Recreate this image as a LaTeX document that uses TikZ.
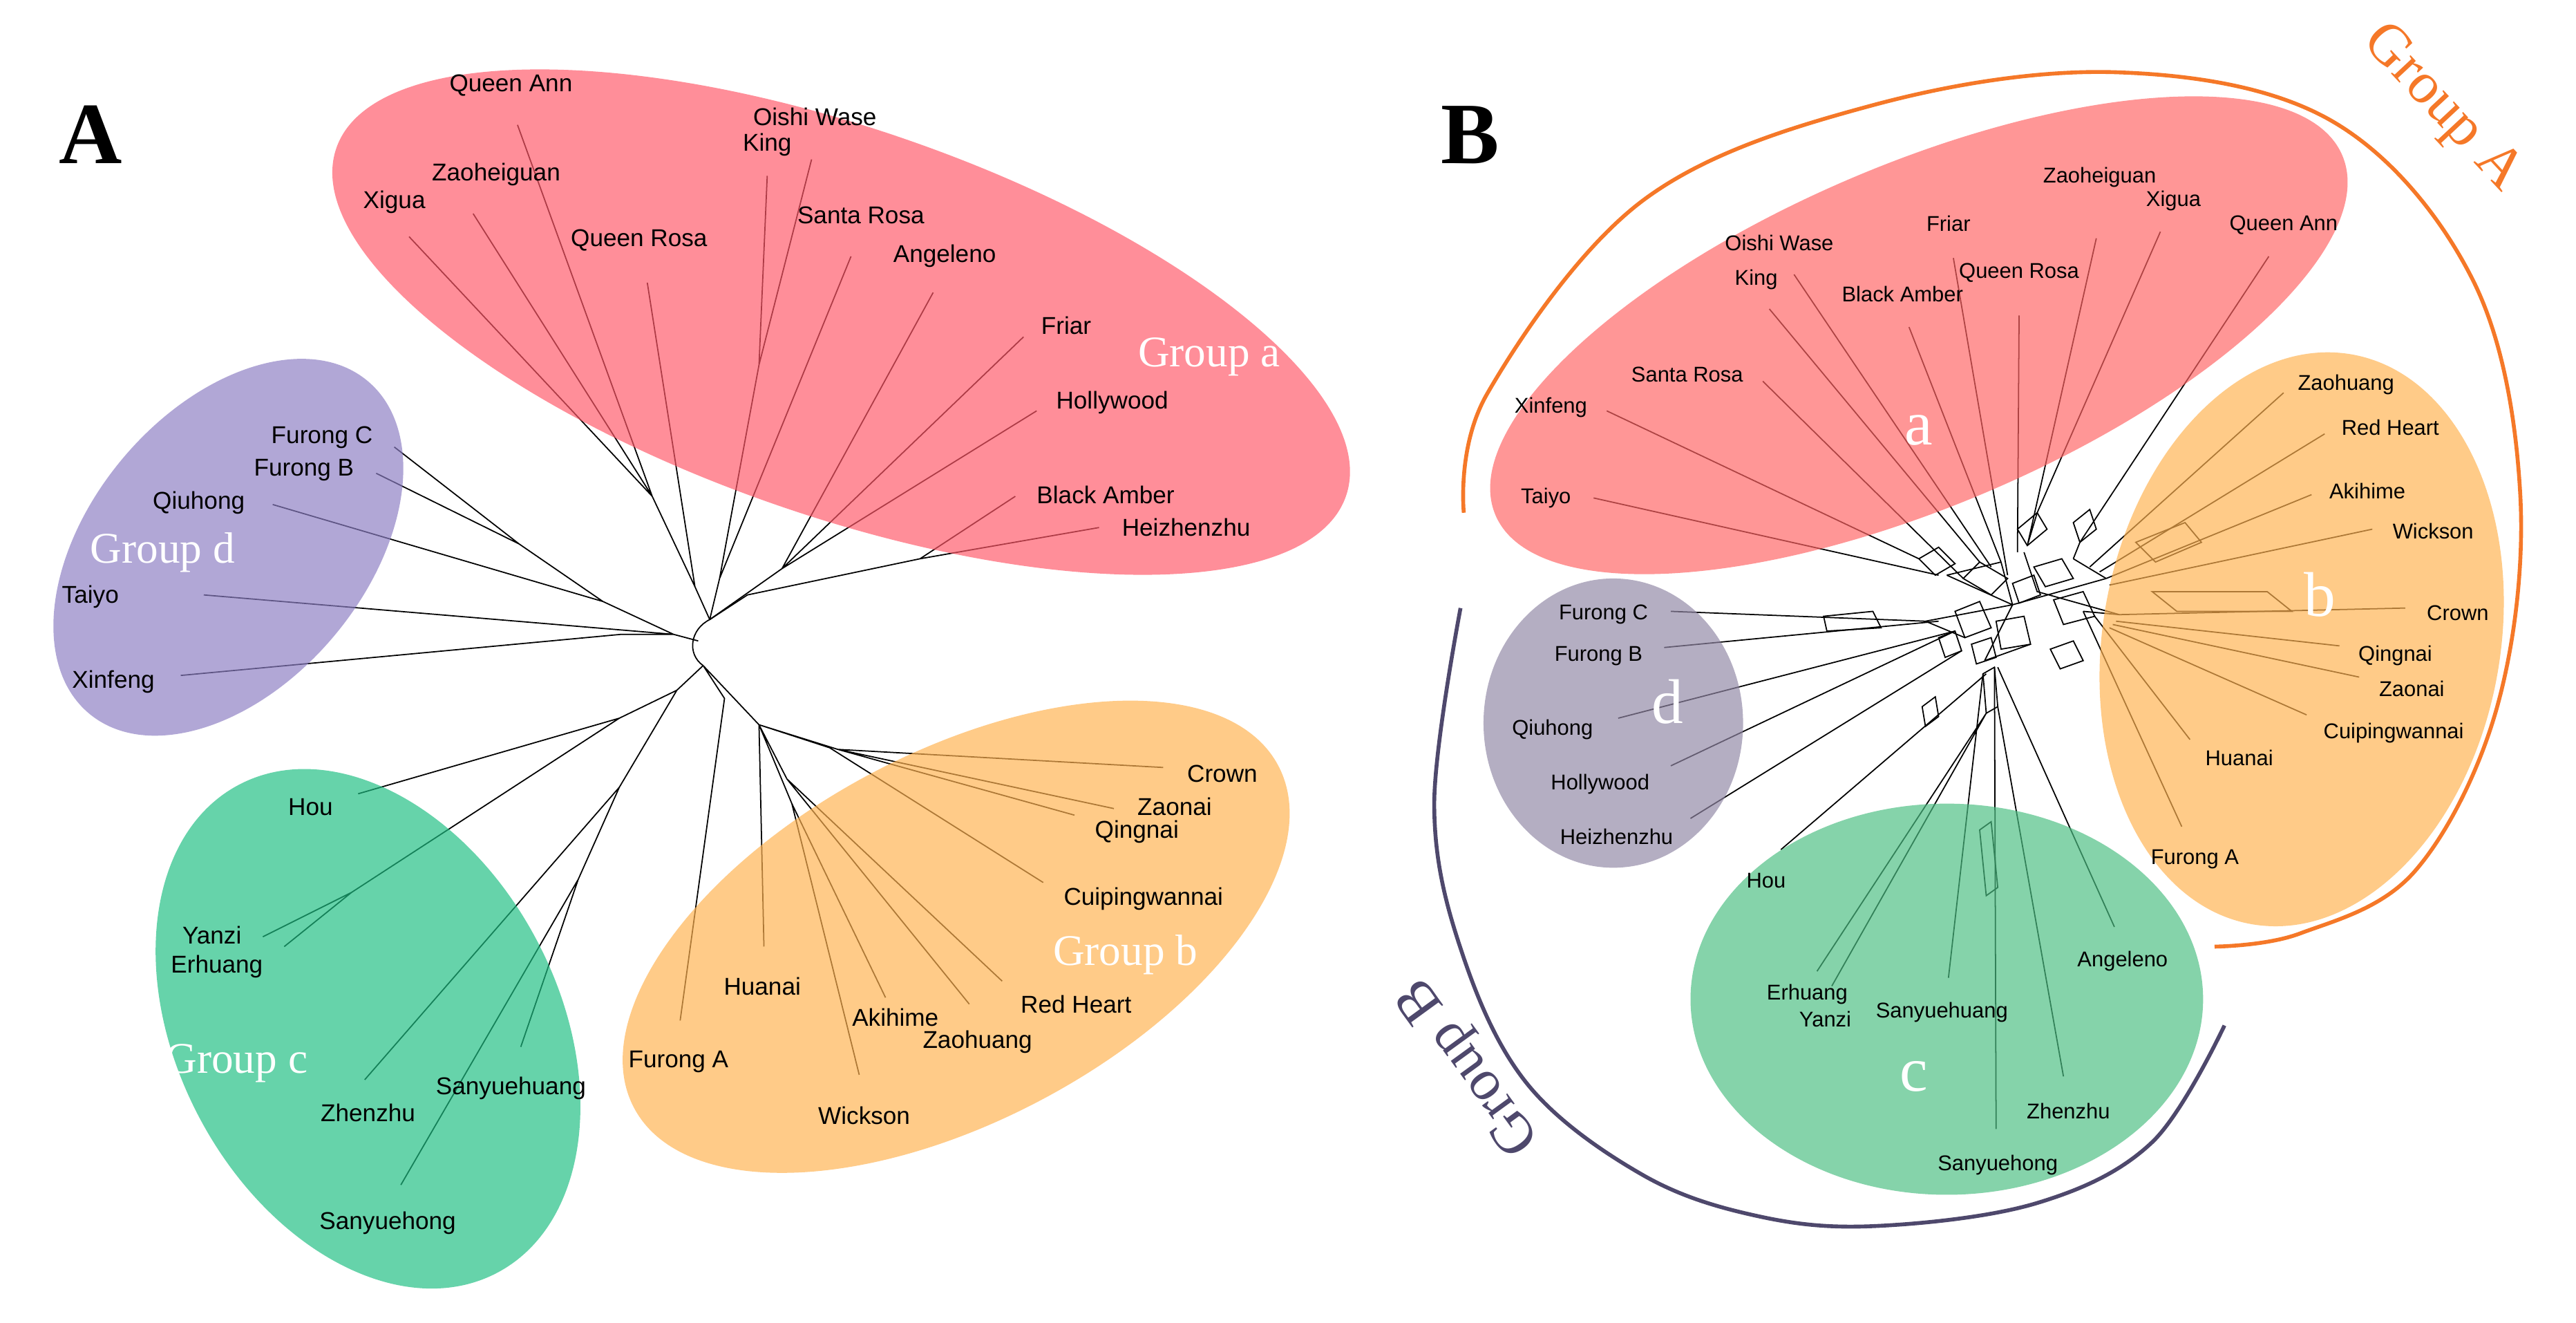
\documentclass[tikz,border=0pt]{standalone}
\usepackage{fontspec}
\setmainfont{Liberation Serif}
\newfontfamily\lsans{Liberation Sans}
\begin{document}
\begin{tikzpicture}[x=0.023776cm,y=-0.023776cm,
  lf/.style={font=\lsans\fontsize{10}{11}\selectfont,inner sep=0pt},
  lfb/.style={font=\lsans\fontsize{8.8}{10}\selectfont,inner sep=0pt},
  grp/.style={font=\fontsize{18}{18}\selectfont,text=white,inner sep=0pt},
  grpb/.style={font=\fontsize{26}{26}\selectfont,text=white,inner sep=0pt},
  big/.style={font=\fontsize{24}{24}\selectfont,inner sep=0pt},
  panel/.style={font=\bfseries\fontsize{36}{36}\selectfont,inner sep=0pt},
  br/.style={line width=0.5pt,black},
  ov/.style={fill opacity=0.68,draw=none}]
\definecolor{cRa}{RGB}{255,88,104}
\definecolor{cDa}{RGB}{140,126,195}
\definecolor{cCa}{RGB}{30,190,130}
\definecolor{cBa}{RGB}{255,178,80}
\definecolor{cRb}{RGB}{255,100,100}
\definecolor{cDb}{RGB}{145,135,165}
\definecolor{cCb}{RGB}{75,190,130}
\definecolor{gA}{RGB}{245,120,40}
\definecolor{gB}{RGB}{78,72,108}
\useasboundingbox (0,0) rectangle (1568,805);
\node[panel] (PA) at (55,82) {A};
\node[panel] (PB) at (895,82) {B};
% ================= PANEL A tree =================
\coordinate (T) at (432,377);
\coordinate (Bt) at (428,405);
\draw[br] (T) .. controls (420,383) and (418,398) .. (Bt);
% group a
\coordinate (eXi) at (249,144); \coordinate (eZh) at (288,130); \coordinate (eQA) at (315,76);
\coordinate (eQR) at (394,172); \coordinate (eKi) at (467,107); \coordinate (eOi) at (494,97);
\coordinate (eSR) at (518,156); \coordinate (eAn) at (568,178); \coordinate (eFr) at (623,205);
\coordinate (eHo) at (631,250); \coordinate (eBA) at (618,302); \coordinate (eHe) at (669,321);
\coordinate (a1) at (397,302); \coordinate (a0) at (423,357); \coordinate (a2) at (462,222);
\coordinate (a2b) at (438,352); \coordinate (a4) at (476,346); \coordinate (a5) at (560,340);
\coordinate (a5b) at (455,362);
\draw[br] (eXi)--(a1) (eZh)--(a1) (eQA)--(a1) (a1)--(a0) (eQR)--(a0) (a0)--(T);
\draw[br] (eKi)--(a2) (eOi)--(a2) (a2)--(a2b) (eSR)--(a2b) (a2b)--(T);
\draw[br] (eAn)--(a4) (eFr)--(a4) (eHo)--(a4) (a4)--(T);
\draw[br] (eBA)--(a5) (eHe)--(a5) (a5)--(a5b) (a5b)--(T);
% group d
\coordinate (L) at (410,386);
\coordinate (eFC) at (240,272); \coordinate (eFB) at (229,288); \coordinate (eQi) at (166,307);
\coordinate (eTa) at (124,362); \coordinate (eXf) at (110,411);
\coordinate (d1) at (316,331); \coordinate (d2) at (367,366); \coordinate (d3) at (378,386);
\draw[br] (eFC)--(d1) (eFB)--(d1) (d1)--(d2) (eQi)--(d2) (d2)--(L) (eTa)--(L) (eXf)--(d3)--(L) (L)--(425,390);
% group c
\coordinate (cc) at (412,420);
\coordinate (eHu) at (218,483); \coordinate (eYa) at (160,570); \coordinate (eEr) at (173,576);
\coordinate (eZz) at (222,657); \coordinate (eSh) at (317,637); \coordinate (eSg) at (244,721);
\coordinate (c1) at (377,437); \coordinate (c2) at (214,543); \coordinate (c3) at (377,479); \coordinate (c4) at (352,535);
\draw[br] (Bt)--(cc);
\draw[br] (eHu)--(c1)--(cc) (eYa)--(c2) (eEr)--(c2) (c2)--(c1) (eZz)--(c3)--(cc) (eSh)--(c4) (eSg)--(c4) (c4)--(c3);
% group b
\coordinate (eFA) at (414,621); \coordinate (eHn) at (465,576); \coordinate (eWi) at (523,654);
\coordinate (eAk) at (539,607); \coordinate (eZg) at (590,611); \coordinate (eRH) at (610,597);
\coordinate (eCu) at (635,537); \coordinate (eCr) at (708,467); \coordinate (eZn) at (678,492);
\coordinate (eQn) at (654,496);
\coordinate (b0) at (441,425); \coordinate (b1) at (462,441); \coordinate (b2) at (510,456);
\coordinate (b3) at (479,474); \coordinate (b4) at (482,489); \coordinate (b5) at (505,455);
\draw[br] (Bt)--(b0)--(eFA) (Bt)--(b1) (b1)--(eHn) (b1)--(b2) (eCr)--(b2) (eZn)--(b2) (eQn)--(b2)
  (b1)--(b5)--(eCu) (b1)--(b3) (eRH)--(b3) (eZg)--(b3) (b1)--(b4) (eAk)--(b4) (eWi)--(b4);
% ellipses A
\fill[cRa,ov,rotate around={-19:(512,196)}] (512,196) ellipse [x radius=325,y radius=118];
\fill[cDa,ov,rotate around={50:(139,333)}] (139,333) ellipse [x radius=132,y radius=84];
\fill[cCa,ov,rotate around={-62:(224,626)}] (224,626) ellipse [x radius=168,y radius=116];
\fill[cBa,ov,rotate around={28:(582,570)}] (582,570) ellipse [x radius=222,y radius=112];
% labels A
\node[lf] (QA) at (311,52) {Queen Ann};
\node[lf] (OW) at (496,71) {Oishi Wase};
\node[lf] (Ki) at (467,88) {King};
\node[lf] (Zh) at (302,106) {Zaoheiguan};
\node[lf] (Xi) at (240,123) {Xigua};
\node[lf] (QR) at (389,146) {Queen Rosa};
\node[lf] (SR) at (524,131) {Santa Rosa};
\node[lf] (An) at (575,156) {Angeleno};
\node[lf] (Fr) at (649,198) {Friar};
\node[lf] (Ho) at (677,245) {Hollywood};
\node[lf] (BA) at (673,301) {Black Amber};
\node[lf] (He) at (722,321) {Heizhenzhu};
\node[grp] (Ga) at (736,217) {Group a};
\node[lf] (FC) at (196,266) {Furong C};
\node[lf] (FB) at (185,286) {Furong B};
\node[lf] (Qi) at (121,306) {Qiuhong};
\node[grp] (Gd) at (99,336) {Group d};
\node[lf] (Ta) at (55,363) {Taiyo};
\node[lf] (Xf) at (69,415) {Xinfeng};
\node[lf] (Hu) at (189,491) {Hou};
\node[lf] (Ya) at (129,569) {Yanzi};
\node[lf] (Er) at (132,588) {Erhuang};
\node[grp] (Gc) at (144,647) {Group c};
\node[lf] (Zz) at (224,677) {Zhenzhu};
\node[lf] (Sh) at (311,662) {Sanyuehuang};
\node[lf] (Sg) at (236,744) {Sanyuehong};
\node[lf] (Cr) at (744,471) {Crown};
\node[lf] (Zn) at (715,491) {Zaonai};
\node[lf] (Qn) at (692,506) {Qingnai};
\node[lf] (Cu) at (696,547) {Cuipingwannai};
\node[grp] (Gb) at (685,581) {Group b};
\node[lf] (RH) at (655,611) {Red Heart};
\node[lf] (Zg) at (595,634) {Zaohuang};
\node[lf] (Ak) at (545,619) {Akihime};
\node[lf] (Hn) at (464,600) {Huanai};
\node[lf] (FA) at (413,646) {Furong A};
\node[lf] (Wi) at (526,679) {Wickson};
% ================= PANEL B network =================
\coordinate (H) at (1225,368);
\coordinate (hR) at (1218,342); \coordinate (hR2) at (1232,336);
\coordinate (hO) at (1282,352); \coordinate (hO2) at (1290,374);
\coordinate (hP) at (1172,378); \coordinate (hG) at (1208,402);
\coordinate (hL) at (1185,350);
% mesh
\draw[br] (hR)--(H)--(hO) (hR2)--(1240,360)--(hO2) (hP)--(H)--(hG) (hL)--(H) (hL)--(hR);
\draw[br] (1195,352)--(1205,342)--(1222,352)--(1212,362)--cycle;
\draw[br] (1238,345)--(1255,340)--(1262,352)--(1245,357)--cycle;
\draw[br] (1250,365)--(1268,360)--(1275,375)--(1256,380)--cycle;
\draw[br] (1190,372)--(1205,366)--(1212,382)--(1196,388)--cycle;
\draw[br] (1215,378)--(1232,375)--(1236,392)--(1218,395)--cycle;
\draw[br] (1228,322)--(1240,312)--(1246,322)--(1234,332)--cycle;
\draw[br] (1262,318)--(1272,310)--(1276,322)--(1266,330)--cycle;
\draw[br] (1180,388)--(1190,384)--(1194,396)--(1184,400)--cycle;
\draw[br] (1207,410)--(1214,406)--(1216,430)--(1209,434)--cycle;
\draw[br] (1248,395)--(1262,390)--(1268,402)--(1254,407)--cycle;
\draw[br] (1168,340)--(1180,333)--(1190,343)--(1178,350)--cycle;
\draw[br] (1225,355)--(1238,350)--(1242,362)--(1229,367)--cycle;
\draw[br] (1200,392)--(1212,388)--(1215,400)--(1203,404)--cycle;
\draw[br] (1262,340)--(1282,352) (1268,372)--(hO2) (1236,392)--(hG) (1196,388)--(hP);
% leaves B
\coordinate (fXf) at (978,250); \coordinate (fTa) at (970,303); \coordinate (fSR) at (1073,232);
\coordinate (fKi) at (1077,188); \coordinate (fOW) at (1092,167); \coordinate (fBA) at (1162,199);
\coordinate (fFr) at (1189,157); \coordinate (fQR) at (1229,192); \coordinate (fZh) at (1276,145);
\coordinate (fXi) at (1315,141); \coordinate (fQA) at (1381,156);
\draw[br] (fXf)--(1168,340) (fTa)--(1180,350) (fSR)--(1195,352) (fKi)--(1205,342) (fOW)--(1212,345)
  (fBA)--(1218,342) (fFr)--(1222,350) (fQR)--(1228,336) (fZh)--(1234,332) (fXi)--(1240,312)
  (fQA)--(1266,330) (1266,330)--(1262,340) (1240,312)--(1234,332);
\coordinate (fZg) at (1390,239); \coordinate (fRH) at (1415,264); \coordinate (fAk) at (1407,301);
\coordinate (fWi) at (1444,322); \coordinate (fCr) at (1464,370); \coordinate (fQn) at (1424,393);
\coordinate (fZn) at (1436,412); \coordinate (fCu) at (1404,435); \coordinate (fHn) at (1333,450);
\coordinate (fFA) at (1328,503);
\draw[br] (fZg)--(1272,345) (fRH)--(1278,348) (fAk)--(hO) (fWi)--(1284,356) (fCr)--(hO2)
  (fQn)--(1288,378) (fZn)--(1286,380) (fCu)--(1284,382) (fHn)--(1275,375) (fFA)--(1268,372);
\draw[br] (1310,360)--(1380,360)--(1395,372)--(1325,372)--cycle;
\draw[br] (1300,330)--(1330,318)--(1340,330)--(1312,342)--cycle;
\coordinate (fFC) at (1017,372); \coordinate (fFB) at (1013,394); \coordinate (fQi) at (985,437);
\coordinate (fHo) at (1017,466); \coordinate (fHe) at (1029,498);
\draw[br] (fFC)--(hP) (fFB)--(1180,378) (fQi)--(1190,384) (fHo)--(1190,384) (fHe)--(1194,396);
\draw[br] (1110,375)--(1140,372)--(1145,382)--(1112,384)--cycle;
\coordinate (fHu) at (1084,517); \coordinate (fEr) at (1106,591); \coordinate (fYa) at (1115,600);
\coordinate (fSh) at (1186,595); \coordinate (fAn) at (1287,564); \coordinate (fZz) at (1256,655);
\coordinate (fSg) at (1215,687);
\draw[br] (fHu)--(1209,410) (fEr)--(1209,434) (fYa)--(1209,434) (fSh)--(1207,410)
  (fAn)--(1216,406) (fZz)--(1216,430) (fSg)--(1214,406);
\draw[br] (1205,505)--(1212,500)--(1216,540)--(1209,545)--cycle;
\draw[br] (1170,430)--(1178,424)--(1180,436)--(1172,442)--cycle;
% ellipses B
\fill[cRb,ov,rotate around={23:(1168,204)}] (1168,204) ellipse [x radius=280,y radius=104];
\fill[cBa,ov,rotate around={80:(1401,389)}] (1401,389) ellipse [x radius=176,y radius=121];
\fill[cDb,ov] (982,440) ellipse [x radius=79,y radius=88];
\fill[cCb,ov] (1185,608) ellipse [x radius=156,y radius=119];
% group arcs
\draw[gA,line width=1.6pt] plot[smooth,tension=0.6] coordinates {(891,312) (905,240) (1000,122) (1140,64) (1289,44) (1420,74) (1505,170) (1534,300) (1520,430) (1470,530) (1400,568) (1348,576)};
\draw[gB,line width=1.6pt] plot[smooth,tension=0.6] coordinates {(889,370) (873,490) (890,580) (930,660) (1000,715) (1070,740) (1142,746) (1240,732) (1310,695) (1354,624)};
\node[big,text=gA,rotate=-47] (GA) at (1486,66) {Group A};
\node[big,text=gB,rotate=126] (GB) at (895,648) {Group B};
% labels B
\node[lfb] (bZh) at (1278,108) {Zaoheiguan};
\node[lfb] (bXi) at (1323,122) {Xigua};
\node[lfb] (bFr) at (1186,136) {Friar};
\node[lfb] (bQA) at (1390,137) {Queen Ann};
\node[lfb] (bOW) at (1083,148) {Oishi Wase};
\node[lfb] (bQR) at (1229,166) {Queen Rosa};
\node[lfb] (bKi) at (1069,170) {King};
\node[lfb] (bBA) at (1158,179) {Black Amber};
\node[lfb] (bSR) at (1027,228) {Santa Rosa};
\node[lfb] (bXf) at (944,248) {Xinfeng};
\node[lfb] (bTa) at (941,303) {Taiyo};
\node[grpb] (ba) at (1168,262) {a};
\node[lfb] (bZg) at (1428,234) {Zaohuang};
\node[lfb] (bRH) at (1455,260) {Red Heart};
\node[lfb] (bAk) at (1441,299) {Akihime};
\node[lfb] (bWi) at (1481,323) {Wickson};
\node[grpb] (bb) at (1412,362) {b};
\node[lfb] (bCr) at (1496,373) {Crown};
\node[lfb] (bQn) at (1458,399) {Qingnai};
\node[lfb] (bZn) at (1468,419) {Zaonai};
\node[lfb] (bCu) at (1457,446) {Cuipingwannai};
\node[lfb] (bHn) at (1363,461) {Huanai};
\node[lfb] (bFA) at (1336,523) {Furong A};
\node[lfb] (bFC) at (976,374) {Furong C};
\node[lfb] (bFB) at (973,399) {Furong B};
\node[grpb] (bd) at (1015,427) {d};
\node[lfb] (bQi) at (945,444) {Qiuhong};
\node[lfb] (bHo) at (974,477) {Hollywood};
\node[lfb] (bHe) at (984,509) {Heizhenzhu};
\node[lfb] (bHu) at (1075,536) {Hou};
\node[lfb] (bEr) at (1100,605) {Erhuang};
\node[lfb] (bYa) at (1111,620) {Yanzi};
\node[lfb] (bSh) at (1182,616) {Sanyuehuang};
\node[lfb] (bAn) at (1292,585) {Angeleno};
\node[grpb] (bc) at (1165,655) {c};
\node[lfb] (bZz) at (1259,676) {Zhenzhu};
\node[lfb] (bSg) at (1216,709) {Sanyuehong};
\end{tikzpicture}
\end{document}
